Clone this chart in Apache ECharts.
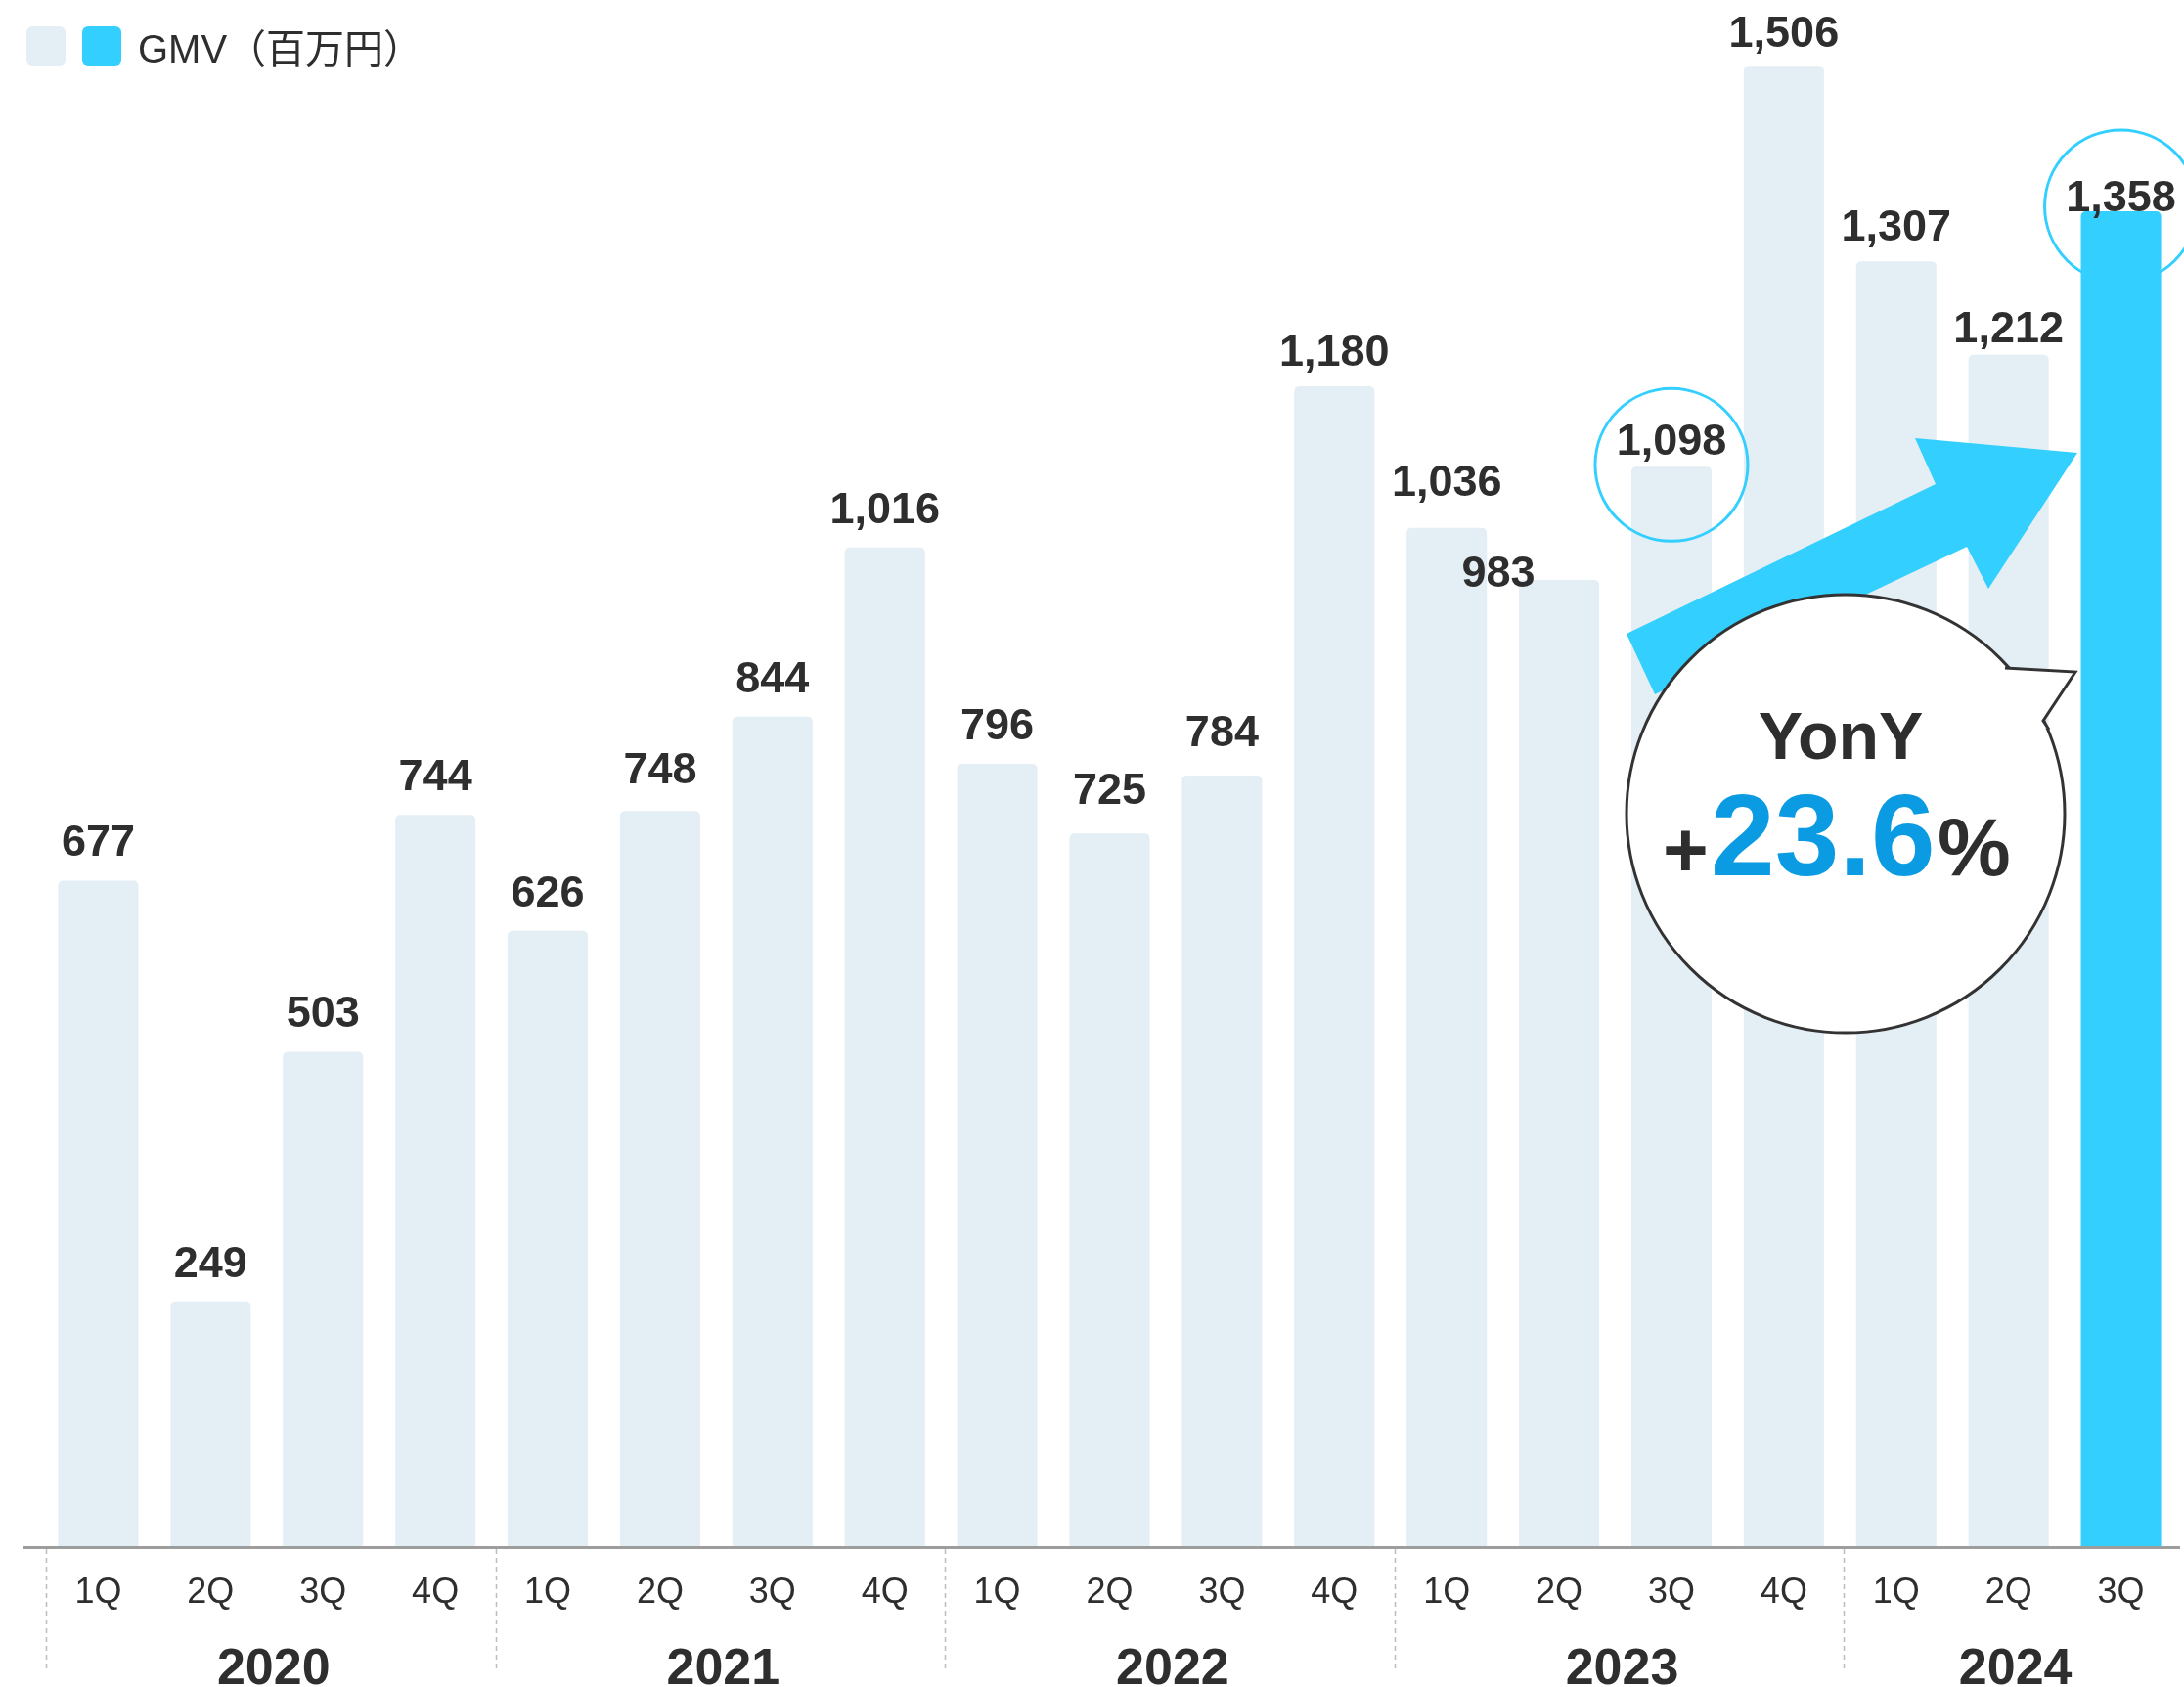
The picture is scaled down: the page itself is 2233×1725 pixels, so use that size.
<!DOCTYPE html>
<html>
<head>
<meta charset="utf-8">
<title>GMV</title>
<script src="https://cdn.jsdelivr.net/npm/echarts@6/dist/echarts.min.js"></script>
<style>
  html, body { margin: 0; padding: 0; background: #fff; }
  #chart { width: 2233px; height: 1725px; }
</style>
</head>
<body>
<div id="chart"></div>
<script>
// data
const quarters = ['1Q', '2Q', '3Q', '4Q', '1Q', '2Q', '3Q', '4Q', '1Q', '2Q', '3Q', '4Q', '1Q', '2Q', '3Q', '4Q', '1Q', '2Q', '3Q']
const quarterYears = ['2020', '2020', '2020', '2020', '2021', '2021', '2021', '2021', '2022', '2022', '2022', '2022',
  '2023', '2023', '2023', '2023', '2024', '2024', '2024']
const gmv = [677, 249, 503, 744, 626, 748, 844, 1016, 796, 725, 784, 1180, 1036, 983, 1098, 1506, 1307, 1212, 1358]
const years = ['2020', '2021', '2022', '2023', '2024']
const legendName = 'GMV（百万円）'
const yonyValue = '23.6'
const highlightIndex = 18
const circledIndexes = [14, 18]

const LIGHT = '#e3eef5'
const CYAN = '#33cfff'
const TEXT = '#2e2e2e'
const FONT = "'Liberation Sans', Arial, sans-serif"

// small per-bar label nudges so labels sit where the original puts them
const labelTweaks = {
  5: { distance: 18 },
  9: { distance: 20 },
  10: { distance: 20 },
  11: { distance: 11 },
  12: { distance: 23 },
  13: { distance: 15, offset: [-62, 32] },
  14: { distance: 2 },
  15: { distance: 9 },
  16: { distance: 11 },
  17: { distance: 3 },
  18: { distance: -10 },
}
const circleOffsets = { 14: -2, 18: -5 }

const categories = quarters.map((q, i) => quarterYears[i] + ' ' + q)

// year label sits in the middle of its quarters
const yearCenters = {}
years.forEach((y) => {
  const idx = quarterYears.map((v, i) => (v === y ? i : -1)).filter((i) => i >= 0)
  const mid = idx.reduce((a, b) => a + b, 0) / idx.length
  yearCenters[String(mid)] = y
})

function withComma(v) {
  return String(v).replace(/\B(?=(\d{3})+(?!\d))/g, ',')
}

const chart = echarts.init(document.getElementById('chart'))

chart.setOption({
  animation: false,
  backgroundColor: '#fff',
  grid: { left: 43, right: 7, top: 13, bottom: 144, outerBoundsMode: 'none', containLabel: false },
  xAxis: [
    {
      type: 'category',
      data: categories,
      position: 'bottom',
      axisLine: { show: false },
      axisTick: { show: false },
      axisLabel: {
        interval: 0,
        margin: 30,
        fontSize: 36,
        lineHeight: 36,
        color: TEXT,
        fontFamily: FONT,
        formatter: (v) => v.split(' ')[1],
      },
    },
    {
      type: 'value',
      position: 'bottom',
      min: -0.5,
      max: 18.5,
      interval: 0.5,
      axisLine: { show: false },
      axisTick: { show: false },
      splitLine: { show: false },
      axisLabel: {
        margin: 101,
        fontSize: 52,
        lineHeight: 52,
        fontWeight: 'bold',
        color: TEXT,
        fontFamily: FONT,
        padding: [0, 0, 0, 14],
        formatter: (v) => yearCenters[String(v)] || '',
      },
    },
  ],
  yAxis: { type: 'value', min: 0, max: 1560, show: false },
  series: [
    {
      type: 'bar',
      name: legendName,
      barWidth: 82,
      data: gmv.map((v, i) => ({
        value: v,
        itemStyle: i === highlightIndex ? { color: CYAN } : undefined,
        label: labelTweaks[i],
      })),
      itemStyle: { color: LIGHT, borderRadius: [5, 5, 0, 0] },
      label: {
        show: true,
        position: 'top',
        distance: 15,
        fontSize: 45,
        lineHeight: 45,
        fontWeight: 'bold',
        color: TEXT,
        fontFamily: FONT,
        formatter: ({ value }) => withComma(value),
      },
      markPoint: {
        symbol: 'circle',
        symbolSize: 156,
        label: { show: false },
        itemStyle: { color: 'rgba(0,0,0,0)', borderColor: CYAN, borderWidth: 3 },
        data: circledIndexes.map((i) => ({
          coord: [categories[i], gmv[i]],
          symbolOffset: [0, circleOffsets[i] || 0],
        })),
      },
    },
  ],
})

function drawDecorations() {
  const xOf = (i) => chart.convertToPixel({ xAxisIndex: 0 }, categories[i])
  const band = xOf(1) - xOf(0)
  const axisY = chart.convertToPixel({ yAxisIndex: 0 }, 0)

  const separators = years.map((y) => {
    const x = Math.round(xOf(quarterYears.indexOf(y)) - band / 2) + 4.5
    return {
      type: 'line',
      z: 1,
      shape: { x1: x, y1: axisY + 3, x2: x, y2: axisY + 126 },
      style: { stroke: '#bdbdbd', lineWidth: 1.5, lineDash: [5, 4] },
    }
  })

  const elements = [
    // legend
    { type: 'rect', shape: { x: 27, y: 27, width: 40, height: 40, r: 6 }, style: { fill: LIGHT } },
    { type: 'rect', shape: { x: 84, y: 27, width: 40, height: 40, r: 6 }, style: { fill: CYAN } },
    {
      type: 'text', x: 141, y: 53,
      style: {
        text: legendName, fill: TEXT, fontSize: 40, verticalAlign: 'middle',
        fontFamily: "'Liberation Sans', 'Noto Sans CJK JP', sans-serif",
      },
    },
    // axis line
    {
      type: 'line', z: 5,
      shape: { x1: 24, y1: axisY + 1.5, x2: 2229, y2: axisY + 1.5 },
      style: { stroke: '#9d9d9d', lineWidth: 3 },
    },
    ...separators,
    // growth arrow
    {
      type: 'polygon', z: 10,
      shape: { points: [[1663, 648], [1979, 495], [1958, 448], [2124, 463], [2033, 602], [2011, 559], [1692, 710]] },
      style: { fill: CYAN },
    },
    // speech bubble
    {
      type: 'circle', z: 11,
      shape: { cx: 1887, cy: 832, r: 224 },
      style: { fill: '#fff', stroke: '#333', lineWidth: 3 },
    },
    {
      type: 'polygon', z: 12,
      shape: { points: [[2050, 683], [2122, 687], [2089, 737], [2095, 746], [2060, 730]] },
      style: { fill: '#fff' },
    },
    {
      type: 'polyline', z: 12,
      shape: { points: [[2050, 683], [2122, 687], [2089, 737], [2095, 746]] },
      style: { stroke: '#333', lineWidth: 3, fill: null },
    },
    {
      type: 'text', z: 13, x: 1882, y: 757,
      style: {
        text: 'YonY', fill: TEXT, fontSize: 68, fontWeight: 'bold', fontFamily: FONT,
        align: 'center', verticalAlign: 'middle',
      },
    },
    {
      type: 'text', z: 13, x: 1700, y: 874,
      style: { text: '+', fill: TEXT, fontSize: 80, fontWeight: 'bold', fontFamily: FONT, verticalAlign: 'middle' },
    },
    {
      type: 'text', z: 13, x: 1749, y: 862,
      style: { text: yonyValue, fill: '#0a9be3', fontSize: 118, fontWeight: 'bold', fontFamily: FONT, verticalAlign: 'middle' },
    },
    {
      type: 'text', z: 13, x: 1981, y: 872,
      style: { text: '%', fill: TEXT, fontSize: 84, fontWeight: 'bold', fontFamily: FONT, verticalAlign: 'middle' },
    },
  ]

  chart.setOption({ graphic: elements })
}

drawDecorations()
</script>
</body>
</html>
